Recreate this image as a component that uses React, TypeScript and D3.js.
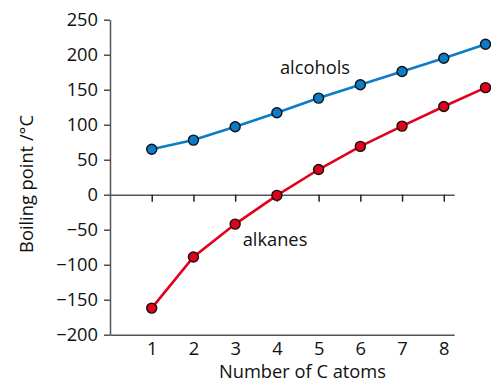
import { useEffect, useRef } from "react";
import * as d3 from "d3";

const carbons = [1, 2, 3, 4, 5, 6, 7, 8, 9];
const alcohols = [65, 78, 97, 117, 138, 157, 176, 195, 215];
const alkanes = [-162, -89, -42, -1, 36, 69, 98, 126, 153];
const yTicks = [-200, -150, -100, -50, 0, 50, 100, 150, 200, 250];
const xTicks = [1, 2, 3, 4, 5, 6, 7, 8];

const FONT = "'Open Sans', 'Noto Sans', sans-serif";
const FS = "18.3px";

const App = () => {
  const ref = useRef<SVGSVGElement>(null);

  useEffect(() => {
    const width = 491,
      height = 385;
    const svg = d3.select(ref.current);
    svg.selectAll("*").remove();

    const x = d3.scaleLinear().domain([0, 9]).range([110, 485.5]);
    const y = d3.scaleLinear().domain([-200, 250]).range([334.7, 19.7]);
    // axes stop a bit past 8
    const xAxisScale = d3.scaleLinear().domain([0, 8.25]).range([110, x(8.25)]);

    const g = svg.append("g");

    // y axis
    const yAxis = g
      .append("g")
      .attr("transform", `translate(${x(0)},0)`)
      .call(
        d3
          .axisLeft(y)
          .tickValues(yTicks)
          .tickSize(6)
          .tickSizeOuter(0)
          .tickPadding(6)
          .tickFormat((d) => {
            const v = d as number;
            return v < 0 ? `\u2212${Math.abs(v)}` : `${v}`;
          })
      );
    yAxis.select(".domain").attr("stroke", "#555").attr("stroke-width", 1.5);
    yAxis.selectAll(".tick line").attr("stroke", "#333").attr("stroke-width", 1.3);
    yAxis
      .selectAll(".tick text")
      .attr("fill", "#111")
      .style("font-size", FS)
      .style("font-family", FONT);

    // zero axis with ticks downward
    const zeroAxis = g
      .append("g")
      .attr("transform", `translate(0,${y(0)})`)
      .call(
        d3
          .axisBottom(xAxisScale)
          .tickValues(xTicks)
          .tickSize(7)
          .tickSizeOuter(0)
          .tickFormat(() => "")
      );
    zeroAxis.select(".domain").attr("stroke", "#555").attr("stroke-width", 1.5);
    zeroAxis.selectAll(".tick line").attr("stroke", "#222").attr("stroke-width", 1.5);

    // bottom axis, labels only
    const bottomAxis = g
      .append("g")
      .attr("transform", `translate(0,${y(-200)})`)
      .call(
        d3
          .axisBottom(xAxisScale)
          .tickValues(xTicks)
          .tickSize(0)
          .tickSizeOuter(0)
          .tickPadding(7)
          .tickFormat(d3.format("d"))
      );
    bottomAxis.select(".domain").attr("stroke", "#555").attr("stroke-width", 1.5);
    bottomAxis
      .selectAll(".tick text")
      .attr("fill", "#111")
      .style("font-size", FS)
      .style("font-family", FONT);

    // axis titles
    g.append("text")
      .attr("x", 302.5)
      .attr("y", 378)
      .attr("text-anchor", "middle")
      .attr("fill", "#111")
      .style("font-size", FS)
      .style("font-family", FONT)
      .text("Number of C atoms");

    g.append("text")
      .attr("transform", `translate(33,184) rotate(-90)`)
      .attr("text-anchor", "middle")
      .attr("fill", "#111")
      .style("font-size", FS)
      .style("font-family", FONT)
      .text("Boiling point /\u00b0C");

    const line = d3
      .line<number>()
      .x((_, i) => x(carbons[i]))
      .y((d) => y(d));

    const drawSeries = (values: number[], color: string) => {
      const s = g.append("g");
      s.append("path")
        .attr("d", line(values) as string)
        .attr("fill", "none")
        .attr("stroke", color)
        .attr("stroke-width", 2.6);
      s.selectAll("circle")
        .data(values)
        .enter()
        .append("circle")
        .attr("cx", (_, i) => x(carbons[i]))
        .attr("cy", (d) => y(d))
        .attr("r", 5)
        .attr("fill", color)
        .attr("stroke", "#111")
        .attr("stroke-width", 1.4);
    };
    drawSeries(alcohols, "#0a7cc8");
    drawSeries(alkanes, "#e2001a");

    g.append("text")
      .attr("x", 315)
      .attr("y", 74)
      .attr("text-anchor", "middle")
      .attr("fill", "#111")
      .style("font-size", FS)
      .style("font-family", FONT)
      .text("alcohols");

    g.append("text")
      .attr("x", 275)
      .attr("y", 246)
      .attr("text-anchor", "middle")
      .attr("fill", "#111")
      .style("font-size", FS)
      .style("font-family", FONT)
      .text("alkanes");

    svg.attr("width", width).attr("height", height);
  }, []);

  return (
    <svg
      ref={ref}
      width={491}
      height={385}
      style={{ position: "absolute", left: 0, top: 0, background: "#fff" }}
    />
  );
};

export default App;
